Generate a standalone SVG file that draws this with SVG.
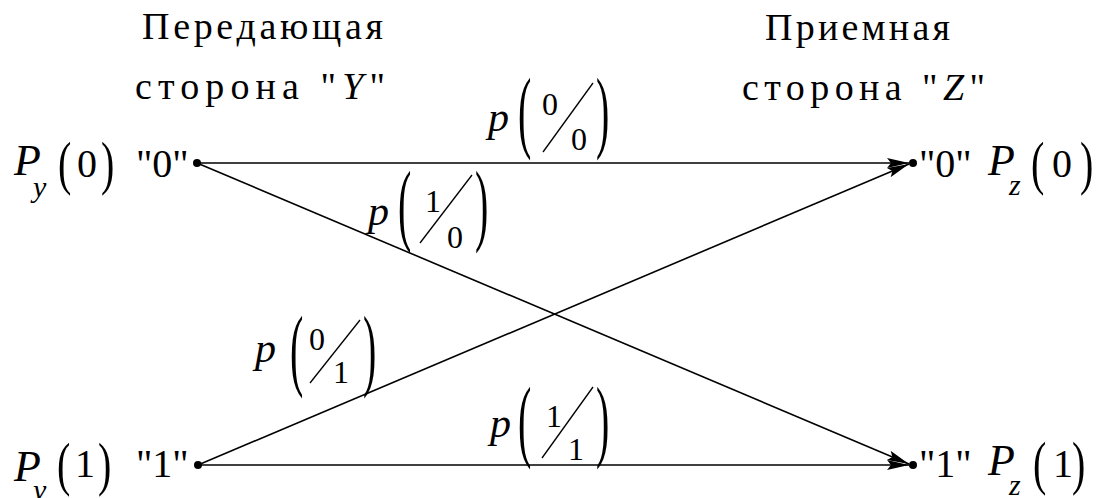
<svg xmlns="http://www.w3.org/2000/svg" width="1098" height="498" viewBox="0 0 1098 498">
<defs>
<marker id="arr" viewBox="0 0 22 10" refX="22" refY="5" markerWidth="22" markerHeight="10" markerUnits="userSpaceOnUse" orient="auto">
<path d="M0,0 L22,5 L0,10 L4,5 Z" fill="#000"/>
</marker>
</defs>
<rect width="1098" height="498" fill="#fff"/>

<g id="header-Y">
<text x="142" y="39" font-family="Liberation Serif" font-size="38" style="font-family:'Liberation Serif',serif" textLength="241" lengthAdjust="spacing">Передающая</text>
<text x="135" y="99" font-family="Liberation Serif" font-size="38" style="font-family:'Liberation Serif',serif" textLength="250" lengthAdjust="spacing">сторона "<tspan font-style="italic">Y</tspan>"</text>
</g>
<g id="header-Z">
<text x="765" y="40" font-family="Liberation Serif" font-size="38" style="font-family:'Liberation Serif',serif" textLength="185" lengthAdjust="spacing">Приемная</text>
<text x="742" y="100" font-family="Liberation Serif" font-size="38" style="font-family:'Liberation Serif',serif" textLength="243" lengthAdjust="spacing">сторона "<tspan font-style="italic">Z</tspan>"</text>
</g>

<g id="connectors" stroke="#000" stroke-width="1.6" fill="none">
<line x1="197" y1="163" x2="909" y2="163" marker-end="url(#arr)"/>
<line x1="197" y1="163" x2="909" y2="464" marker-end="url(#arr)"/>
<line x1="198" y1="465" x2="909" y2="164" marker-end="url(#arr)"/>
<line x1="198" y1="465" x2="909" y2="465" marker-end="url(#arr)"/>
</g>

<g id="node-y0">
<circle cx="197" cy="163" r="4"/>
<text x="14" y="175" font-family="Liberation Serif" style="font-family:'Liberation Serif',serif" font-size="44" font-style="italic">P</text>
<text x="33" y="197" font-family="Liberation Serif" style="font-family:'Liberation Serif',serif" font-size="30" font-style="italic">y</text>
<text font-family="Liberation Serif" style="font-family:'Liberation Serif',serif" font-size="40" transform="translate(58,183) scale(1,1.47)">(</text>
<text x="77" y="177" font-family="Liberation Serif" style="font-family:'Liberation Serif',serif" font-size="40">0</text>
<text font-family="Liberation Serif" style="font-family:'Liberation Serif',serif" font-size="40" transform="translate(101,183) scale(1,1.47)">)</text>
<text x="136" y="177" font-family="Liberation Serif" style="font-family:'Liberation Serif',serif" font-size="40">"0"</text>
</g>

<g id="node-y1">
<circle cx="198" cy="465" r="4"/>
<text x="14" y="481" font-family="Liberation Serif" style="font-family:'Liberation Serif',serif" font-size="44" font-style="italic">P</text>
<text x="33" y="500" font-family="Liberation Serif" style="font-family:'Liberation Serif',serif" font-size="30" font-style="italic">y</text>
<text font-family="Liberation Serif" style="font-family:'Liberation Serif',serif" font-size="40" transform="translate(57,484) scale(1,1.47)">(</text>
<text x="75" y="477" font-family="Liberation Serif" style="font-family:'Liberation Serif',serif" font-size="40">1</text>
<text font-family="Liberation Serif" style="font-family:'Liberation Serif',serif" font-size="40" transform="translate(98,484) scale(1,1.47)">)</text>
<text x="136" y="477" font-family="Liberation Serif" style="font-family:'Liberation Serif',serif" font-size="40">"1"</text>
</g>

<g id="node-z0">
<circle cx="913" cy="163" r="4"/>
<text x="919" y="177" font-family="Liberation Serif" style="font-family:'Liberation Serif',serif" font-size="40">"0"</text>
<text x="988" y="175" font-family="Liberation Serif" style="font-family:'Liberation Serif',serif" font-size="44" font-style="italic">P</text>
<text x="1009" y="195" font-family="Liberation Serif" style="font-family:'Liberation Serif',serif" font-size="30" font-style="italic">z</text>
<text font-family="Liberation Serif" style="font-family:'Liberation Serif',serif" font-size="40" transform="translate(1031,183) scale(1,1.47)">(</text>
<text x="1052" y="177" font-family="Liberation Serif" style="font-family:'Liberation Serif',serif" font-size="40">0</text>
<text font-family="Liberation Serif" style="font-family:'Liberation Serif',serif" font-size="40" transform="translate(1080,183) scale(1,1.47)">)</text>
</g>

<g id="node-z1">
<circle cx="913" cy="465" r="4"/>
<text x="919" y="477" font-family="Liberation Serif" style="font-family:'Liberation Serif',serif" font-size="40">"1"</text>
<text x="988" y="475" font-family="Liberation Serif" style="font-family:'Liberation Serif',serif" font-size="44" font-style="italic">P</text>
<text x="1009" y="495" font-family="Liberation Serif" style="font-family:'Liberation Serif',serif" font-size="30" font-style="italic">z</text>
<text font-family="Liberation Serif" style="font-family:'Liberation Serif',serif" font-size="40" transform="translate(1033,483) scale(1,1.47)">(</text>
<text x="1053" y="477" font-family="Liberation Serif" style="font-family:'Liberation Serif',serif" font-size="40">1</text>
<text font-family="Liberation Serif" style="font-family:'Liberation Serif',serif" font-size="40" transform="translate(1072,483) scale(1,1.47)">)</text>
</g>

<g id="label-p00">
<text x="488" y="131" font-family="Liberation Serif" style="font-family:'Liberation Serif',serif" font-size="42" font-style="italic">p</text>
<text font-family="Liberation Serif" style="font-family:'Liberation Serif',serif" font-size="40" transform="translate(518,141) scale(1,2.25)">(</text>
<text x="542" y="115" font-family="Liberation Serif" style="font-family:'Liberation Serif',serif" font-size="32">0</text>
<line x1="543" y1="152" x2="593" y2="83" stroke="#000" stroke-width="1.3"/>
<text x="571" y="150" font-family="Liberation Serif" style="font-family:'Liberation Serif',serif" font-size="32">0</text>
<text font-family="Liberation Serif" style="font-family:'Liberation Serif',serif" font-size="40" transform="translate(596,141) scale(1,2.25)">)</text>
</g>

<g id="label-p10">
<text x="368" y="225" font-family="Liberation Serif" style="font-family:'Liberation Serif',serif" font-size="42" font-style="italic">p</text>
<text font-family="Liberation Serif" style="font-family:'Liberation Serif',serif" font-size="40" transform="translate(398,234) scale(1,2.25)">(</text>
<text x="425" y="212" font-family="Liberation Serif" style="font-family:'Liberation Serif',serif" font-size="32">1</text>
<line x1="420" y1="243" x2="472" y2="175" stroke="#000" stroke-width="1.3"/>
<text x="447" y="248" font-family="Liberation Serif" style="font-family:'Liberation Serif',serif" font-size="32">0</text>
<text font-family="Liberation Serif" style="font-family:'Liberation Serif',serif" font-size="40" transform="translate(475,234) scale(1,2.25)">)</text>
</g>

<g id="label-p01">
<text x="255" y="362" font-family="Liberation Serif" style="font-family:'Liberation Serif',serif" font-size="42" font-style="italic">p</text>
<text font-family="Liberation Serif" style="font-family:'Liberation Serif',serif" font-size="40" transform="translate(290,379) scale(1,2.25)">(</text>
<text x="309" y="350" font-family="Liberation Serif" style="font-family:'Liberation Serif',serif" font-size="32">0</text>
<line x1="310" y1="383" x2="360" y2="320" stroke="#000" stroke-width="1.3"/>
<text x="333" y="383" font-family="Liberation Serif" style="font-family:'Liberation Serif',serif" font-size="32">1</text>
<text font-family="Liberation Serif" style="font-family:'Liberation Serif',serif" font-size="40" transform="translate(363,379) scale(1,2.25)">)</text>
</g>

<g id="label-p11">
<text x="490" y="437" font-family="Liberation Serif" style="font-family:'Liberation Serif',serif" font-size="42" font-style="italic">p</text>
<text font-family="Liberation Serif" style="font-family:'Liberation Serif',serif" font-size="40" transform="translate(518,450) scale(1,2.25)">(</text>
<text x="546" y="427" font-family="Liberation Serif" style="font-family:'Liberation Serif',serif" font-size="32">1</text>
<line x1="542" y1="458" x2="593" y2="387" stroke="#000" stroke-width="1.3"/>
<text x="568" y="460" font-family="Liberation Serif" style="font-family:'Liberation Serif',serif" font-size="32">1</text>
<text font-family="Liberation Serif" style="font-family:'Liberation Serif',serif" font-size="40" transform="translate(596,450) scale(1,2.25)">)</text>
</g>
</svg>
